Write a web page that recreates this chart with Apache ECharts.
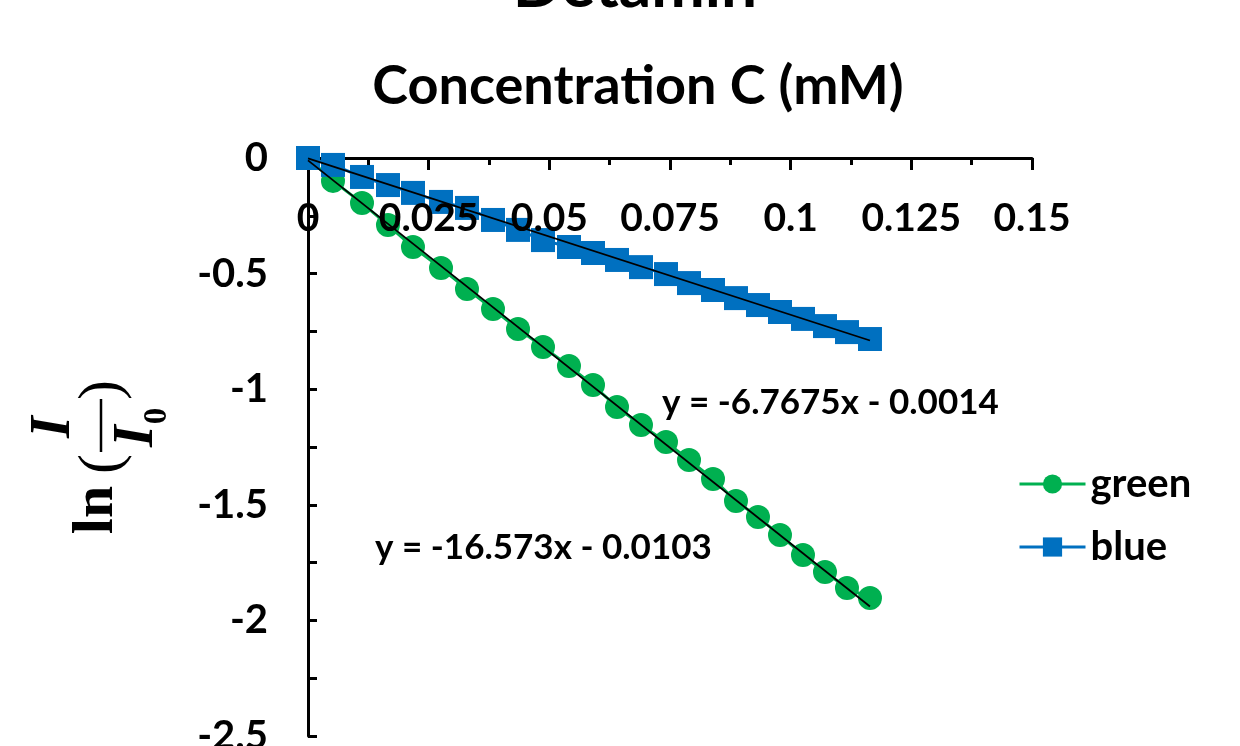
<!DOCTYPE html>
<html>
<head>
<meta charset="utf-8">
<script src="https://cdn.jsdelivr.net/npm/echarts@6/dist/echarts.min.js"></script>
<style>
  html, body { margin: 0; padding: 0; background: #ffffff; }
  #chart { width: 1240px; height: 746px; }
</style>
</head>
<body>
<div id="chart"></div>
<script>
// Concentration of the titrant (mM)
const concentration = [0, 0.00518, 0.01119, 0.01657, 0.02175, 0.02756, 0.03294, 0.03833,
  0.04351, 0.04869, 0.05407, 0.05905, 0.06402, 0.06899, 0.07417, 0.07894,
  0.08391, 0.08867, 0.09323, 0.09779, 0.10255, 0.10711, 0.11167, 0.11643];

// ln(I/I0) measured in the green channel
const greenLn = [0, -0.099, -0.195, -0.290, -0.385, -0.476, -0.567, -0.653,
  -0.740, -0.817, -0.900, -0.982, -1.077, -1.155, -1.228, -1.306,
  -1.388, -1.484, -1.553, -1.631, -1.717, -1.791, -1.860, -1.903];

// ln(I/I0) measured in the blue channel
const blueLn = [0, -0.030, -0.082, -0.117, -0.151, -0.190, -0.216, -0.268,
  -0.311, -0.355, -0.385, -0.411, -0.441, -0.472, -0.502, -0.541,
  -0.571, -0.606, -0.636, -0.666, -0.696, -0.727, -0.753, -0.783];

// Linear least-squares fits (slope, intercept)
const greenFit = [-16.573, -0.0103];
const blueFit = [-6.7675, -0.0014];

const seriesNames = ['green', 'blue'];
const seriesColors = ['#00B050', '#0070C0'];

const uiFont = 'Lato';
const pairs = (xs, ys) => xs.map((x, i) => [x, ys[i]]);
const xEnd = concentration[concentration.length - 1];
const fitLine = (fit) => [[0, fit[1]], [xEnd, fit[0] * xEnd + fit[1]]];
const fitText = (fit) => 'y = ' + fit[0] + 'x - ' + Math.abs(fit[1]).toFixed(4);

const chart = echarts.init(document.getElementById('chart'), null, { renderer: 'canvas' });

const axisStroke = { color: '#000', width: 3 };

chart.setOption({
  backgroundColor: '#ffffff',
  animation: false,
  grid: { left: 308, right: 208, top: 158, bottom: 10, containLabel: false, outerBoundsMode: 'none' },
  legend: {
    data: seriesNames,
    orient: 'vertical',
    left: 1013,
    top: 459,
    itemWidth: 66,
    itemHeight: 24,
    itemGap: 23,
    lineStyle: { width: 3 },
    textStyle: { fontFamily: uiFont, fontWeight: 'bold', fontSize: 40, color: '#000' }
  },
  xAxis: [
    {
      type: 'value', position: 'top', min: 0, max: 0.15, interval: 0.025,
      name: 'Concentration C (mM)', nameLocation: 'middle', nameGap: 44,
      nameTextStyle: { fontFamily: uiFont, fontWeight: 'bold', fontSize: 54, color: '#000', padding: [0, 64, 0, 0] },
      axisLine: { show: true, onZero: false, lineStyle: axisStroke },
      axisTick: { show: true, inside: true, length: 12, lineStyle: axisStroke },
      minorTick: { show: true, splitNumber: 2, length: 7, lineStyle: axisStroke },
      axisLabel: { show: false },
      splitLine: { show: false }
    },
    {
      type: 'value', position: 'top', min: 0, max: 0.15, interval: 0.025, z: 10,
      axisLine: { show: false },
      axisTick: { show: false },
      axisLabel: { show: true, inside: true, margin: 41, fontFamily: uiFont, fontWeight: 'bold', fontSize: 39, color: '#000' },
      splitLine: { show: false }
    }
  ],
  yAxis: {
    type: 'value', min: -2.5, max: 0, interval: 0.5,
    axisLine: { show: true, onZero: false, lineStyle: axisStroke },
    axisTick: { show: true, inside: true, length: 9, lineStyle: axisStroke },
    minorTick: { show: true, splitNumber: 2, length: 9, lineStyle: axisStroke },
    axisLabel: { margin: 40, fontFamily: uiFont, fontWeight: 'bold', fontSize: 40, color: '#000' },
    splitLine: { show: false }
  },
  series: [
    {
      name: 'green', type: 'line', data: pairs(concentration, greenLn),
      symbol: 'circle', symbolSize: 24, color: seriesColors[0],
      itemStyle: { color: seriesColors[0] },
      lineStyle: { color: seriesColors[0], width: 3 }, z: 2
    },
    {
      name: 'blue', type: 'line', data: pairs(concentration, blueLn),
      symbol: 'rect', symbolSize: 24, color: seriesColors[1],
      itemStyle: { color: seriesColors[1] },
      lineStyle: { color: seriesColors[1], width: 3 }, z: 3
    },
    {
      name: 'green fit', type: 'line', data: fitLine(greenFit), symbol: 'none', silent: true,
      lineStyle: { color: '#000', width: 1.8 }, z: 5
    },
    {
      name: 'blue fit', type: 'line', data: fitLine(blueFit), symbol: 'none', silent: true,
      lineStyle: { color: '#000', width: 1.8 }, z: 5
    }
  ],
  graphic: [
    {
      type: 'text', x: 635, y: -14,
      style: { text: 'Detamin', fontFamily: uiFont, fontWeight: 'bold', fontSize: 64, fill: '#000', textAlign: 'center', textVerticalAlign: 'middle' }
    },
    {
      type: 'text', x: 662, y: 403,
      style: { text: fitText(blueFit), fontFamily: uiFont, fontWeight: 'bold', fontSize: 35, fill: '#000', textVerticalAlign: 'middle' }
    },
    {
      type: 'text', x: 375, y: 548,
      style: { text: fitText(greenFit), fontFamily: uiFont, fontWeight: 'bold', fontSize: 35, fill: '#000', textVerticalAlign: 'middle' }
    },
    {
      // y-axis title ln(I/I0), written sideways
      type: 'group', x: 101, y: 425, rotation: Math.PI / 2,
      children: [
        { type: 'text', x: -85, y: -4, style: { text: 'ln', fontFamily: 'Liberation Serif', fontWeight: 'bold', fontSize: 58, fill: '#000', textAlign: 'center', textVerticalAlign: 'middle' } },
        { type: 'text', x: -39, y: 2, style: { text: '(', fontFamily: 'Liberation Serif', fontSize: 60, fill: '#000', textAlign: 'center', textVerticalAlign: 'middle' } },
        { type: 'line', shape: { x1: -27, y1: 0, x2: 26, y2: 0 }, style: { stroke: '#000', lineWidth: 2.5 } },
        { type: 'text', x: -2, y: -46, style: { text: 'I', fontFamily: 'Liberation Serif', fontWeight: 'bold', fontStyle: 'italic', fontSize: 56, fill: '#000', textAlign: 'center', textVerticalAlign: 'middle' } },
        { type: 'text', x: -11, y: 37, style: { text: 'I', fontFamily: 'Liberation Serif', fontWeight: 'bold', fontStyle: 'italic', fontSize: 56, fill: '#000', textAlign: 'center', textVerticalAlign: 'middle' } },
        { type: 'text', x: 9, y: 56, style: { text: '0', fontFamily: 'Liberation Serif', fontWeight: 'bold', fontSize: 33, fill: '#000', textAlign: 'center', textVerticalAlign: 'middle' } },
        { type: 'text', x: 35, y: 2, style: { text: ')', fontFamily: 'Liberation Serif', fontSize: 60, fill: '#000', textAlign: 'center', textVerticalAlign: 'middle' } }
      ]
    }
  ]
});
</script>
</body>
</html>
